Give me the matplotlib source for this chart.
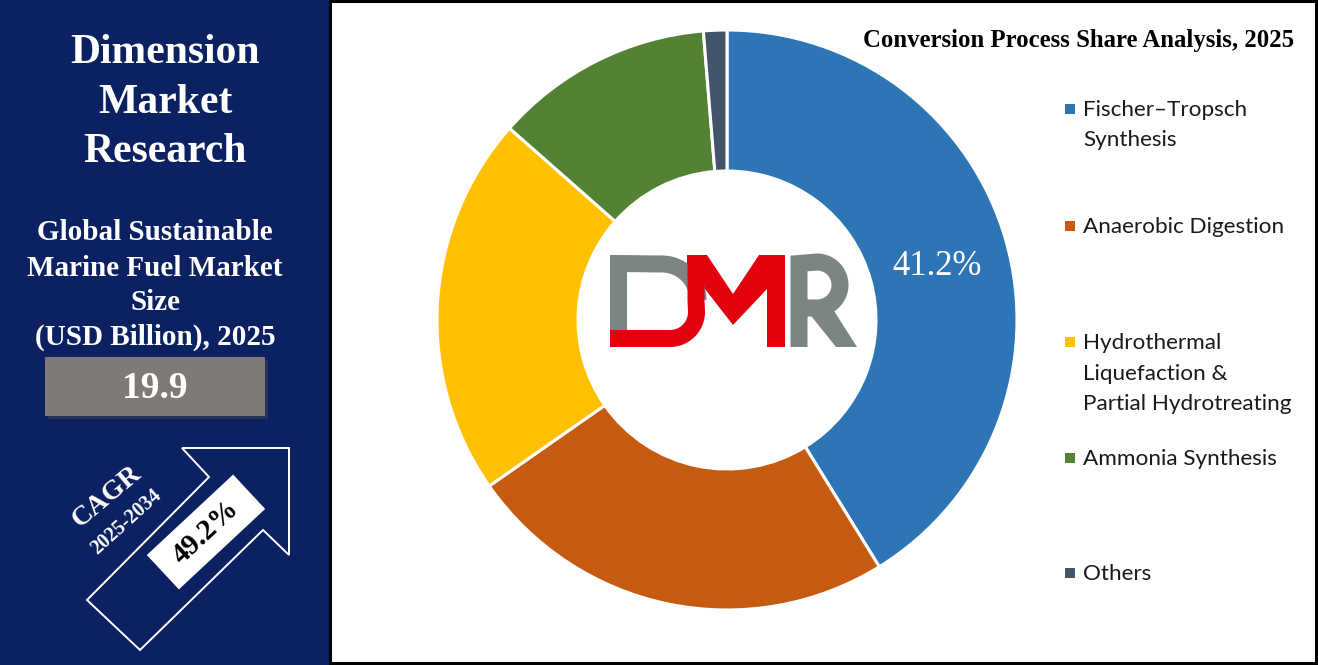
import numpy as np
import matplotlib
matplotlib.use('Agg')
import matplotlib.pyplot as plt
from matplotlib.patches import Rectangle, Polygon
from matplotlib.lines import Line2D

# ---------------- data ----------------
categories = ["Fischer–Tropsch\nSynthesis", "Anaerobic Digestion",
              "Hydrothermal\nLiquefaction &\nPartial Hydrotreating",
              "Ammonia Synthesis", "Others"]
shares = [41.2, 24.1, 21.2, 12.2, 1.3]
colors = ["#2e75b6", "#c55a11", "#ffc000", "#548235", "#44546a"]
chart_title = "Conversion Process Share Analysis, 2025"
brand_lines = ["Dimension", "Market", "Research"]
market_lines = ["Global Sustainable", "Marine Fuel Market", "Size", "(USD Billion), 2025"]
market_value = "19.9"
cagr_label = "CAGR"
cagr_period = "2025-2034"
cagr_value = "49.2%"

# ---------------- figure ----------------
W, H = 1318, 665
fig = plt.figure(figsize=(W / 100, H / 100), dpi=100)
bg = fig.add_axes([0, 0, 1, 1])
bg.set_xlim(0, W)
bg.set_ylim(H, 0)
bg.axis('off')

navy = "#0b2162"
serif = "Liberation Serif"
bg.add_patch(Rectangle((0, 0), 330, H, facecolor=navy, edgecolor='none'))
bg.add_patch(Rectangle((330, 1), 985.5, 662, facecolor='white', edgecolor='black', lw=2.2))

# left panel texts
for txt, y in zip(brand_lines, [53, 103, 152]):
    bg.text(165, y, txt, color='white', fontsize=30, fontweight='bold', family=serif,
            ha='center', va='center')
for txt, y in zip(market_lines, [233, 268, 302, 337]):
    bg.text(155, y, txt, color='white', fontsize=21, fontweight='bold', family=serif,
            ha='center', va='center')

# value box with shadow
bg.add_patch(Rectangle((48, 360), 220, 59, facecolor='#3a3f55', edgecolor='none', alpha=0.6))
bg.add_patch(Rectangle((45, 357), 220, 59, facecolor='#7f7a78', edgecolor='none'))
bg.text(155, 388, market_value, color='white', fontsize=27, fontweight='bold', family=serif,
        ha='center', va='center')

# arrow outline
arrow = [(182, 448), (289, 448), (289, 555), (263, 530), (140, 650),
         (87, 600), (209, 477)]
bg.add_patch(Polygon(arrow, closed=True, facecolor='none', edgecolor='white', lw=1.4))

# white box rotated
ang = np.deg2rad(43)
bcx, bcy, bw, bh = 206, 532, 118, 47
u = np.array([np.cos(ang), -np.sin(ang)])
v = np.array([np.sin(ang), np.cos(ang)])
c = np.array([bcx, bcy])
corners = [c - u * bw / 2 - v * bh / 2, c + u * bw / 2 - v * bh / 2,
           c + u * bw / 2 + v * bh / 2, c - u * bw / 2 + v * bh / 2]
bg.add_patch(Polygon(corners, closed=True, facecolor='white', edgecolor='none'))
bg.text(bcx, bcy, cagr_value, color='black', fontsize=21, fontweight='bold', family=serif,
        ha='center', va='center', rotation=43, rotation_mode='anchor')
bg.text(107, 497, cagr_label, color='white', fontsize=20, fontweight='bold', family=serif,
        ha='center', va='center', rotation=40, rotation_mode='anchor')
bg.text(126, 522, cagr_period, color='white', fontsize=14.5, fontweight='bold', family=serif,
        ha='center', va='center', rotation=42, rotation_mode='anchor')

# right title
bg.text(1294, 41, chart_title, color='black', fontsize=17.8, fontweight='bold', family=serif,
        ha='right', va='center')

# ---------------- donut ----------------
cx, cy, R, r_in = 727, 320, 290, 149
pad = 300
ax = fig.add_axes([(cx - pad) / W, (H - cy - pad) / H, 2 * pad / W, 2 * pad / H])
wedges, _ = ax.pie(shares, colors=colors, startangle=90, counterclock=False, radius=R,
                   wedgeprops=dict(width=R - r_in, edgecolor='white', linewidth=2.2))
ax.set_xlim(-pad, pad)
ax.set_ylim(-pad, pad)
ax.set_aspect('equal')
ax.axis('off')

w0 = wedges[0]
mid = np.deg2rad((w0.theta1 + w0.theta2) / 2 - 1.5)
rm = (R + r_in) / 2 - 3
ax.text(rm * np.cos(mid), rm * np.sin(mid), f"{shares[0]:.1f}%", color='white',
        fontsize=25, family=serif, ha='center', va='center')

# ---------------- DMR logo (decorative) ----------------
grey = "#7a8584"
red = "#e2000f"
lw = 17 * 0.72

def arc(xc, yc, r, a0, a1, n=40):
    t = np.deg2rad(np.linspace(a0, a1, n))
    return xc + r * np.cos(t), yc - r * np.sin(t)

# D (grey)
ax_x, ax_y = arc(662, 300, 36, 90, 0)
dx = np.concatenate([[618.5, 618.5], ax_x])
dy = np.concatenate([[330, 263.5], ax_y])
bg.add_line(Line2D(dx, dy, color=grey, lw=lw, solid_capstyle='butt', solid_joinstyle='miter'))
# red J stroke
jx, jy = arc(670, 312, 26.5, 270, 360)
rx = np.concatenate([[610], jx, [696, 696]])
ry = np.concatenate([[338.5], jy, [300, 255]])
bg.add_line(Line2D(rx, ry, color=red, lw=lw, solid_capstyle='butt', solid_joinstyle='round'))
# red M body
m_poly = [(687, 255), (707, 255), (733, 294), (759, 255), (785, 255), (785, 347),
          (767, 347), (767, 289), (733, 325), (705, 289), (687, 289)]
bg.add_patch(Polygon(m_poly, closed=True, facecolor=red, edgecolor='none'))
# R (grey)
bx, by = arc(817, 285, 23, 90, -90)
rrx = np.concatenate([[799, 799], bx, [806]])
rry = np.concatenate([[347, 263.5], by, [308]])
bg.add_line(Line2D(rrx, rry, color=grey, lw=lw, solid_capstyle='butt', solid_joinstyle='miter'))
bg.add_patch(Polygon([(808, 312), (829, 303), (857, 347), (836, 347)], closed=True,
                     facecolor=grey, edgecolor='none'))

# ---------------- legend (manual) ----------------
leg_font = "Lato"
first_line_y = [110, 227, 343, 459, 574]
line_gap = 30.5
for lab, col, y0 in zip(categories, colors, first_line_y):
    bg.add_patch(Rectangle((1065, y0 - 6), 10, 10, facecolor=col, edgecolor='none'))
    for i, line in enumerate(lab.split("\n")):
        bg.text(1083, y0 + i * line_gap, line, color='#1a1a1a', fontsize=16.2, family=leg_font,
                ha='left', va='center')

fig.savefig("out.png", dpi=100)
